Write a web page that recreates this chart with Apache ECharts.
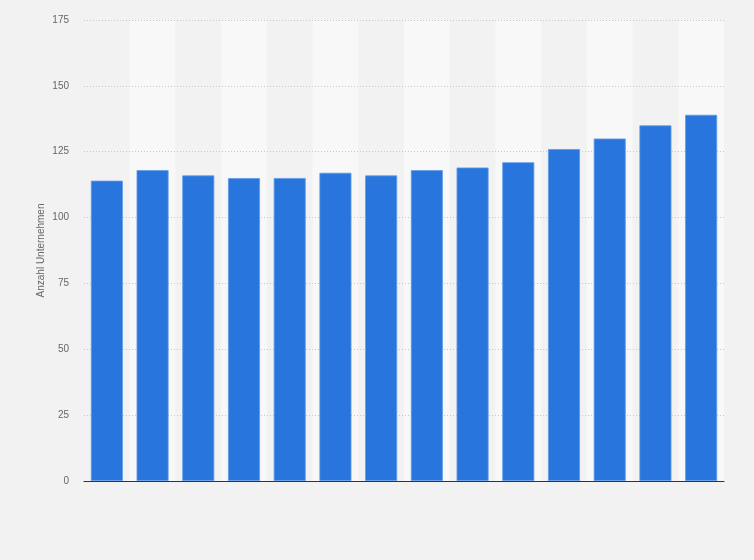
<!DOCTYPE html>
<html>
<head>
<meta charset="utf-8">
<script src="https://cdn.jsdelivr.net/npm/echarts@6/dist/echarts.min.js"></script>
<style>
html,body{margin:0;padding:0;background:#f2f2f2;}
#c{width:754px;height:560px;}
</style>
</head>
<body>
<div id="c"></div>
<script>
const categories = ['1','2','3','4','5','6','7','8','9','10','11','12','13','14'];
const values = [114, 118, 116, 115, 115, 117, 116, 118, 119, 121, 126, 130, 135, 139];
const yTicks = { min: 0, max: 175, interval: 25 };
const yAxisName = 'Anzahl Unternehmen';

const chart = echarts.init(document.getElementById('c'));
chart.setOption({
  backgroundColor: '#f2f2f2',
  animation: false,
  grid: { left: 84, right: 30, top: 20, bottom: 79 },
  xAxis: [{
    type: 'category',
    data: categories,
    boundaryGap: true,
    z: 0,
    axisLine: { show: false },
    axisTick: { show: false },
    axisLabel: { show: false },
    splitArea: { show: true, areaStyle: { color: ['rgba(0,0,0,0)', '#f8f8f8'] } }
  }, {
    type: 'category',
    data: categories,
    position: 'bottom',
    z: 5,
    axisLine: { show: true, lineStyle: { color: '#333', width: 1 } },
    axisTick: { show: false },
    axisLabel: { show: false },
    splitLine: { show: false },
    splitArea: { show: false }
  }],
  yAxis: {
    type: 'value',
    min: yTicks.min, max: yTicks.max, interval: yTicks.interval,
    z: 1,
    name: yAxisName,
    nameLocation: 'middle',
    nameGap: 38,
    nameMoveOverlap: false,
    nameTextStyle: { color: '#666', fontSize: 10, fontFamily: 'Liberation Sans, Arial, sans-serif' },
    axisLine: { show: false },
    axisTick: { show: false },
    axisLabel: { color: '#666', fontSize: 10, margin: 15, fontFamily: 'Liberation Sans, Arial, sans-serif' },
    splitLine: { show: true, showMinLine: false, lineStyle: { color: '#c8c8c8', type: [1, 2], width: 1 } }
  },
  series: [{
    type: 'bar',
    data: values,
    xAxisIndex: 0,
    barWidth: '70%',
    z: 2,
    itemStyle: { color: '#2876dd', borderColor: '#5f9be8', borderWidth: 0.8 }
  }]
});
</script>
</body>
</html>
